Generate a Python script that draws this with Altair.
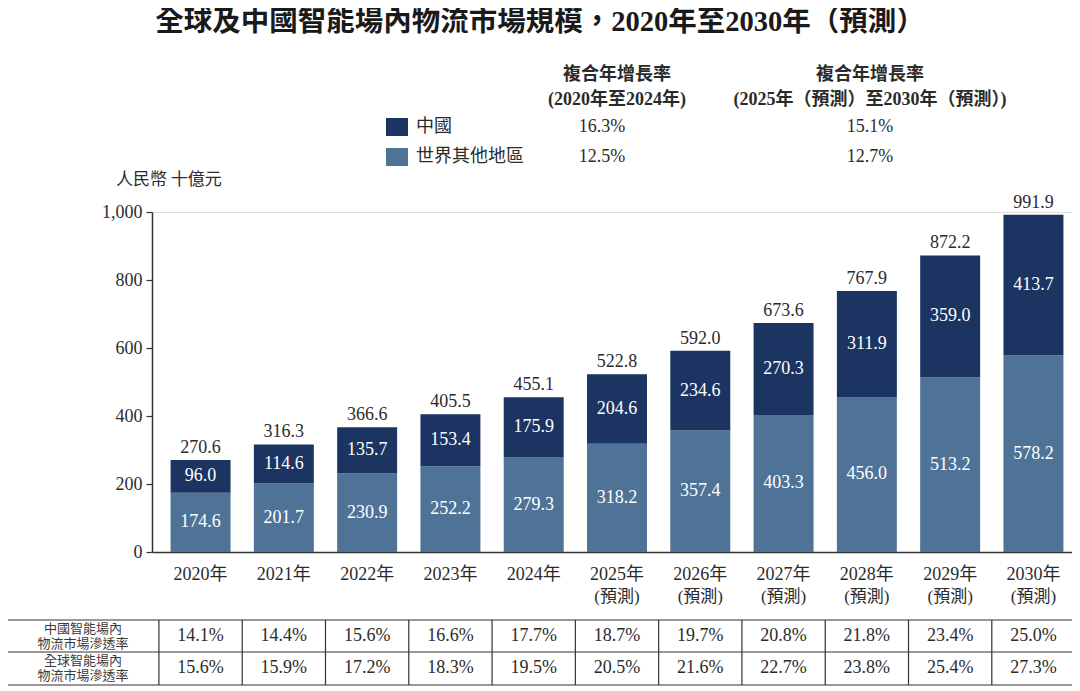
import altair as alt
import pandas as pd

# ---------------- data ----------------
years = ["2020", "2021", "2022", "2023", "2024", "2025", "2026", "2027", "2028", "2029", "2030"]
year_line1 = ["2020年", "2021年", "2022年", "2023年", "2024年", "2025年", "2026年", "2027年", "2028年", "2029年", "2030年"]
year_line2 = ["", "", "", "", "", "(預測)", "(預測)", "(預測)", "(預測)", "(預測)", "(預測)"]
china = [96.0, 114.6, 135.7, 153.4, 175.9, 204.6, 234.6, 270.3, 311.9, 359.0, 413.7]
rest_of_world = [174.6, 201.7, 230.9, 252.2, 279.3, 318.2, 357.4, 403.3, 456.0, 513.2, 578.2]
totals = [270.6, 316.3, 366.6, 405.5, 455.1, 522.8, 592.0, 673.6, 767.9, 872.2, 991.9]
china_penetration = ["14.1%", "14.4%", "15.6%", "16.6%", "17.7%", "18.7%", "19.7%", "20.8%", "21.8%", "23.4%", "25.0%"]
global_penetration = ["15.6%", "15.9%", "17.2%", "18.3%", "19.5%", "20.5%", "21.6%", "22.7%", "23.8%", "25.4%", "27.3%"]
y_ticks = [0, 200, 400, 600, 800, 1000]

series_names = ["中國", "世界其他地區"]
cagr_hist = ["16.3%", "12.5%"]
cagr_fcst = ["15.1%", "12.7%"]

title_text = "全球及中國智能場內物流市場規模，2020年至2030年（預測）"
cagr_head = "複合年增長率"
cagr_hist_period = "(2020年至2024年)"
cagr_fcst_period = "(2025年（預測）至2030年（預測）)"
unit_text = "人民幣 十億元"
row_label_china = ["中國智能場內", "物流市場滲透率"]
row_label_global = ["全球智能場內", "物流市場滲透率"]

# ---------------- styles ----------------
DARK = "#1b3461"
LIGHT = "#4e7397"
TXT = "#2b2b2b"
LINE = "#333333"
SERIF = "Liberation Serif, Noto Sans CJK TC"
CJK = "Noto Sans CJK TC, Noto Sans CJK SC"

df = pd.DataFrame({
    "year": years,
    "line1": year_line1,
    "line2": year_line2,
    "china": china,
    "rest": rest_of_world,
    "total": totals,
    "cpen": china_penetration,
    "gpen": global_penetration,
})
df["zero"] = 0.0
df["rest_mid"] = df["rest"] / 2
df["china_mid"] = df["rest"] + df["china"] / 2

PAD_IN = 0.28
PAD_OUT = 0.223
RANGE_W = 930
xscale = alt.Scale(domain=years, range=[0, RANGE_W], paddingInner=PAD_IN, paddingOuter=PAD_OUT)
X = alt.X("year:N", sort=years, scale=xscale,
          axis=alt.Axis(title=None, labels=False, ticks=False, domain=True,
                        domainColor=LINE, domainWidth=1.5))
yscale = alt.Scale(domain=[0, 1000], nice=False, zero=True)
yaxis = alt.Axis(title=None, values=y_ticks, format=",.0f", grid=False,
                 domainColor=LINE, domainWidth=1.5, tickColor=LINE, tickSize=6,
                 tickWidth=1.2, labelFont=SERIF, labelFontSize=18, labelColor=TXT,
                 labelPadding=4)

base = alt.Chart(df)

rest_bar = base.mark_bar(color=LIGHT).encode(
    x=X, y=alt.Y("rest:Q", scale=yscale, axis=yaxis), y2="zero:Q")
china_bar = base.mark_bar(color=DARK).encode(
    x=X, y=alt.Y("total:Q", scale=yscale), y2="rest:Q")

rest_lbl = base.mark_text(color="white", font=SERIF, fontSize=18, baseline="middle").encode(
    x=X, y=alt.Y("rest_mid:Q", scale=yscale), text=alt.Text("rest:Q", format=".1f"))
china_lbl = base.mark_text(color="white", font=SERIF, fontSize=18, baseline="middle").encode(
    x=X, y=alt.Y("china_mid:Q", scale=yscale), text=alt.Text("china:Q", format=".1f"))
total_lbl = base.mark_text(color=TXT, font=SERIF, fontSize=18, baseline="alphabetic", dy=-7).encode(
    x=X, y=alt.Y("total:Q", scale=yscale), text=alt.Text("total:Q", format=".1f"))

yr1 = base.mark_text(color=TXT, font=SERIF, fontSize=18, baseline="middle").encode(
    x=X, y=alt.value(363), text="line1:N")
yr2 = base.mark_text(color=TXT, font=SERIF, fontSize=17, baseline="middle").encode(
    x=X, y=alt.value(385), text="line2:N")

# table
half_gap = RANGE_W / (11 - PAD_IN + 2 * PAD_OUT) * PAD_IN / 2
cpen_txt = base.mark_text(color=TXT, font=SERIF, fontSize=18, baseline="middle").encode(
    x=X, y=alt.value(424), text="cpen:N")
gpen_txt = base.mark_text(color=TXT, font=SERIF, fontSize=18, baseline="middle").encode(
    x=X, y=alt.value(456), text="gpen:N")
vlines_right = base.mark_rule(color=LINE, strokeWidth=1.2, xOffset=half_gap).encode(
    x=alt.X("year:N", sort=years, scale=xscale, bandPosition=1),
    y=alt.value(408), y2=alt.value(473))
first = alt.Chart(df.head(1))
vline_first = first.mark_rule(color=LINE, strokeWidth=1.2, xOffset=-half_gap).encode(
    x=alt.X("year:N", sort=years, scale=xscale, bandPosition=0),
    y=alt.value(408), y2=alt.value(473))
vline_left = first.mark_rule(color=LINE, strokeWidth=1.2).encode(
    x=alt.value(-145), y=alt.value(408), y2=alt.value(473))
hlines = [first.mark_rule(color=LINE, strokeWidth=1.2).encode(
    x=alt.value(-145), x2=alt.value(923), y=alt.value(yy)) for yy in (408, 440, 473)]


def label(text, x, y, size, bold=False, align="center", font=CJK, color=TXT):
    kw = dict(fontSize=size, font=font, color=color, align=align, baseline="middle",
              fontWeight="bold" if bold else "normal")
    return alt.Chart(pd.DataFrame({"t": [text]})).mark_text(**kw).encode(
        x=alt.value(x), y=alt.value(y), text="t:N")


row_lbls = [
    label(row_label_china[0], -69, 416.5, 13, color="#3a3a3a"),
    label(row_label_china[1], -69, 432, 13, color="#3a3a3a"),
    label(row_label_global[0], -69, 448.5, 13, color="#3a3a3a"),
    label(row_label_global[1], -69, 464, 13, color="#3a3a3a"),
]

title = label(title_text, 388, -190, 28.5, bold=True, font=SERIF, color="#1a1a1a")
h1a = label(cagr_head, 465, -137, 18, bold=True)
h1b = label(cagr_hist_period, 465, -112, 18, bold=True, font=SERIF)
h2a = label(cagr_head, 718, -137, 18, bold=True)
h2b = label(cagr_fcst_period, 718, -112, 18, bold=True, font=SERIF)
unit = label(unit_text, -36, -32, 17, align="left")

sw1 = first.mark_rect(color=DARK).encode(x=alt.value(234), x2=alt.value(256), y=alt.value(-94), y2=alt.value(-76))
sw2 = first.mark_rect(color=LIGHT).encode(x=alt.value(234), x2=alt.value(256), y=alt.value(-64), y2=alt.value(-46))
lg1 = label(series_names[0], 264, -85, 18, align="left")
lg2 = label(series_names[1], 264, -55, 18, align="left")
v11 = label(cagr_hist[0], 450, -85, 18, font=SERIF)
v12 = label(cagr_hist[1], 450, -55, 18, font=SERIF)
v21 = label(cagr_fcst[0], 718, -85, 18, font=SERIF)
v22 = label(cagr_fcst[1], 718, -55, 18, font=SERIF)

chart = alt.layer(
    rest_bar, china_bar, rest_lbl, china_lbl, total_lbl, yr1, yr2,
    cpen_txt, gpen_txt, vlines_right, vline_first, vline_left, *hlines,
    *row_lbls, title, h1a, h1b, h2a, h2b, unit,
    sw1, sw2, lg1, lg2, v11, v12, v21, v22,
).properties(
    width=920, height=340,
    padding={"left": 144, "top": 204, "right": 0, "bottom": 134},
    autosize=alt.AutoSizeParams(type="none"),
).configure_view(stroke=None).configure(background="white")

chart.save("out.html", embed_options={"renderer": "svg", "actions": False})
